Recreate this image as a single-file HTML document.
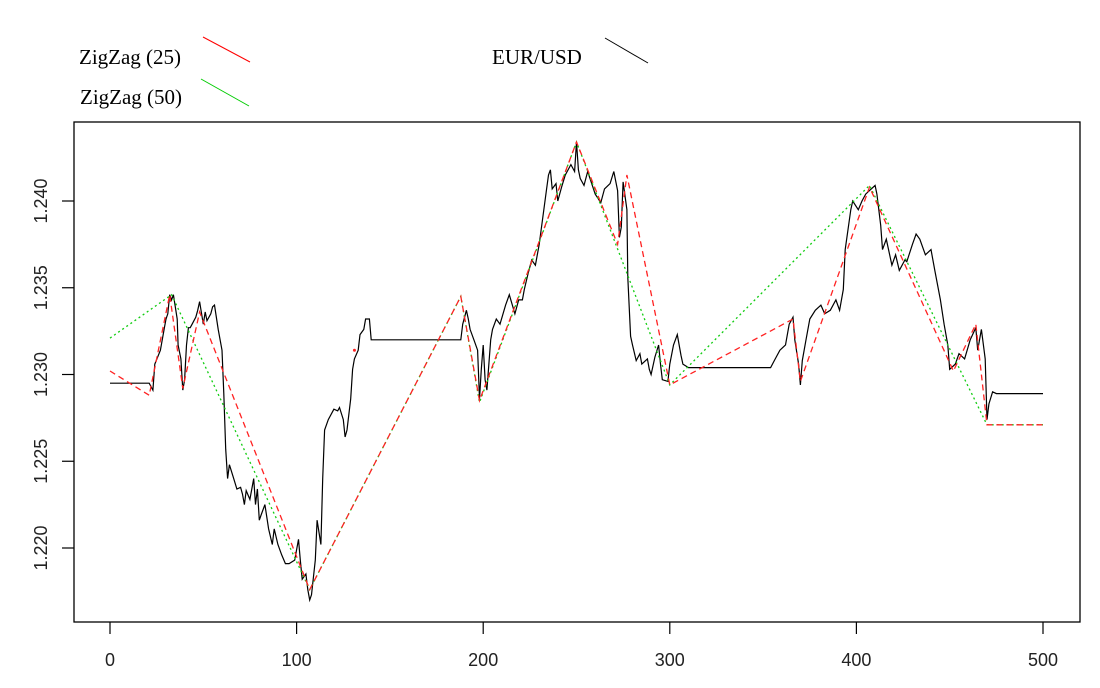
<!DOCTYPE html>
<html><head><meta charset="utf-8"><style>
html,body{margin:0;padding:0;background:#fff;width:1100px;height:688px;overflow:hidden}
svg{display:block}
</style></head><body>
<svg id="chart" width="1100" height="688" viewBox="0 0 1100 688" xmlns="http://www.w3.org/2000/svg">
<rect x="74" y="122" width="1006" height="500" fill="none" stroke="#000" stroke-width="1.3"/>
<g font-family="'Liberation Serif',serif" font-size="21" fill="#000">
<text x="79" y="64">ZigZag (25)</text>
<line x1="203" y1="37" x2="250" y2="62" stroke="#f00" stroke-width="1"/>
<text x="80" y="104">ZigZag (50)</text>
<line x1="201" y1="79" x2="249" y2="106" stroke="#0c0" stroke-width="1"/>
<text x="492" y="64">EUR/USD</text>
<line x1="605" y1="38" x2="648" y2="63" stroke="#000" stroke-width="1"/>
</g>
<g id="axes"></g>
<g id="marks"></g>
</svg>
<script>
const xTicks=[0,100,200,300,400,500];
const yTicks=[1.220,1.225,1.230,1.235,1.240];
const priceX=[0,21,23,24,27,29,30,31,32,33,34,36,36.5,38,39,40,41,42,43,44,46,47,48,50,51,52,54,55,56,58,60,61,62,63,64,66,68,70,71,72,73,75,77,78,79,80,81,83,85,87,88,90,92,94,96,99,101,102,103,105,106,107,108,110,111,113,114,115,117,120,122,123,125,126,127,129,130,131,133,134,136,137,139,140,142,188,189,191,192,193,195,197,198,199,200,201,202,204,205,207,209,212,214,217,219,221,222,224,226,228,230,234,235,236,237,239,240,242,244,247,249,250,251,252,254,256,260,263,265,268,270,272,273,274,275,277,277.5,279,280,282,284,285,288,289,290,292,294,295,296,299,300,302,304,306,307,310,354,356,359,362,364,366,367,369,370,371,373,375,378,381,383,386,389,391,393,394,397,398,401,403,405,407,410,411,413,414,416,419,421,423,426,427,430,432,434,437,440,442,445,447,449,450,453,455,458,461,464,465,467,469,470,471,473,475,500];
const priceY=[1.2295,1.2295,1.2291,1.2306,1.2314,1.2326,1.2332,1.2335,1.2346,1.2343,1.2346,1.2332,1.2317,1.2309,1.2291,1.2297,1.2317,1.2327,1.2327,1.2329,1.2333,1.2337,1.2342,1.2329,1.2336,1.2331,1.2335,1.2339,1.2340,1.2326,1.2314,1.2289,1.2257,1.2240,1.2248,1.2241,1.2234,1.2235,1.2231,1.2225,1.2233,1.2228,1.2240,1.2225,1.2234,1.2216,1.2219,1.2225,1.2211,1.2202,1.2211,1.2202,1.2196,1.2191,1.2191,1.2193,1.2205,1.2193,1.2182,1.2185,1.2176,1.2170,1.2173,1.2193,1.2216,1.2202,1.2240,1.2268,1.2274,1.2280,1.2279,1.2281,1.2274,1.2264,1.2268,1.2286,1.2303,1.2309,1.2314,1.2323,1.2326,1.2332,1.2332,1.2320,1.2320,1.2320,1.2329,1.2337,1.2332,1.2326,1.2320,1.2314,1.2286,1.2303,1.2317,1.2297,1.2291,1.2320,1.2326,1.2332,1.2329,1.2340,1.2346,1.2335,1.2343,1.2343,1.2349,1.2358,1.2366,1.2363,1.2375,1.2407,1.2415,1.2418,1.2407,1.2410,1.2400,1.2408,1.2415,1.2421,1.2417,1.2434,1.2418,1.2413,1.2409,1.2417,1.2404,1.2399,1.2407,1.2410,1.2417,1.2406,1.2379,1.2385,1.2411,1.2395,1.2356,1.2322,1.2317,1.2308,1.2312,1.2306,1.2309,1.2303,1.2300,1.2310,1.2317,1.2306,1.2297,1.2296,1.2306,1.2317,1.2323,1.2311,1.2306,1.2304,1.2304,1.2308,1.2314,1.2317,1.2329,1.2333,1.2320,1.2306,1.2294,1.2308,1.2320,1.2332,1.2337,1.2340,1.2335,1.2337,1.2343,1.2337,1.2349,1.2372,1.2395,1.2400,1.2395,1.2400,1.2404,1.2406,1.2409,1.2404,1.2386,1.2372,1.2378,1.2363,1.2369,1.2360,1.2366,1.2365,1.2375,1.2381,1.2378,1.2369,1.2372,1.2360,1.2343,1.2329,1.2317,1.2303,1.2306,1.2312,1.2309,1.2320,1.2327,1.2314,1.2326,1.2309,1.2274,1.2283,1.2290,1.2289,1.2289];
const zz25X=[0,21,32,39,48,107,188,198,250,272,277,300,366,370,407,452,464,470,500];
const zz25Y=[1.2302,1.2288,1.2346,1.2292,1.2336,1.2176,1.2345,1.2285,1.2434,1.2375,1.2415,1.2294,1.2332,1.2296,1.2408,1.2302,1.2329,1.2271,1.2271];
const zz50X=[0,33,107,188,198,250,300,407,470,500];
const zz50Y=[1.2321,1.2346,1.2176,1.2345,1.2284,1.2434,1.2294,1.2409,1.2271,1.2271];
const strayX=[131];
const strayY=[1.2314];

const NS='http://www.w3.org/2000/svg';
const sx=v=>110+(v-0)*(1043-110)/500;
const sy=v=>201+(1.240-v)*(548-201)/0.020;
function mk(tag,attrs,parent){const e=document.createElementNS(NS,tag);for(const k in attrs)e.setAttribute(k,attrs[k]);parent.appendChild(e);return e;}
const axes=document.getElementById('axes');
const marks=document.getElementById('marks');
xTicks.forEach(t=>{
  const l=mk('line',{x1:sx(t),x2:sx(t),y1:622,y2:634,stroke:'#000','stroke-width':1.2},axes);
  
  
  const tx=mk('text',{x:sx(t),y:666,'text-anchor':'middle','font-family':"'Liberation Sans',sans-serif",'font-size':18,fill:'#222'},axes);
  tx.textContent=String(t);
  
  
});
yTicks.forEach(t=>{
  const y=sy(t);
  const l=mk('line',{x1:62,x2:74,y1:y,y2:y,stroke:'#000','stroke-width':1.2},axes);
  
  
  const tx=mk('text',{x:0,y:0,transform:`translate(47,${y}) rotate(-90)`,'text-anchor':'middle','font-family':"'Liberation Sans',sans-serif",'font-size':18,fill:'#222'},axes);
  tx.textContent=t.toFixed(3);
  
  
});
function pts(X,Y){return X.map((x,i)=>sx(x).toFixed(1)+','+sy(Y[i]).toFixed(1)).join(' ');}
const p=mk('polyline',{points:pts(priceX,priceY),fill:'none',stroke:'#000','stroke-width':1.2},marks);


const g=mk('polyline',{points:pts(zz50X,zz50Y),fill:'none',stroke:'#1c1','stroke-width':1.3,'stroke-dasharray':'2 3'},marks);


const r=mk('polyline',{points:pts(zz25X,zz25Y),fill:'none',stroke:'#f22','stroke-width':1.3,'stroke-dasharray':'6 4'},marks);


strayX.forEach((x,i)=>{
  const c=mk('circle',{cx:sx(x),cy:sy(strayY[i]),r:1.5,fill:'#f22'},marks);
  
  
});
</script>
</body></html>
